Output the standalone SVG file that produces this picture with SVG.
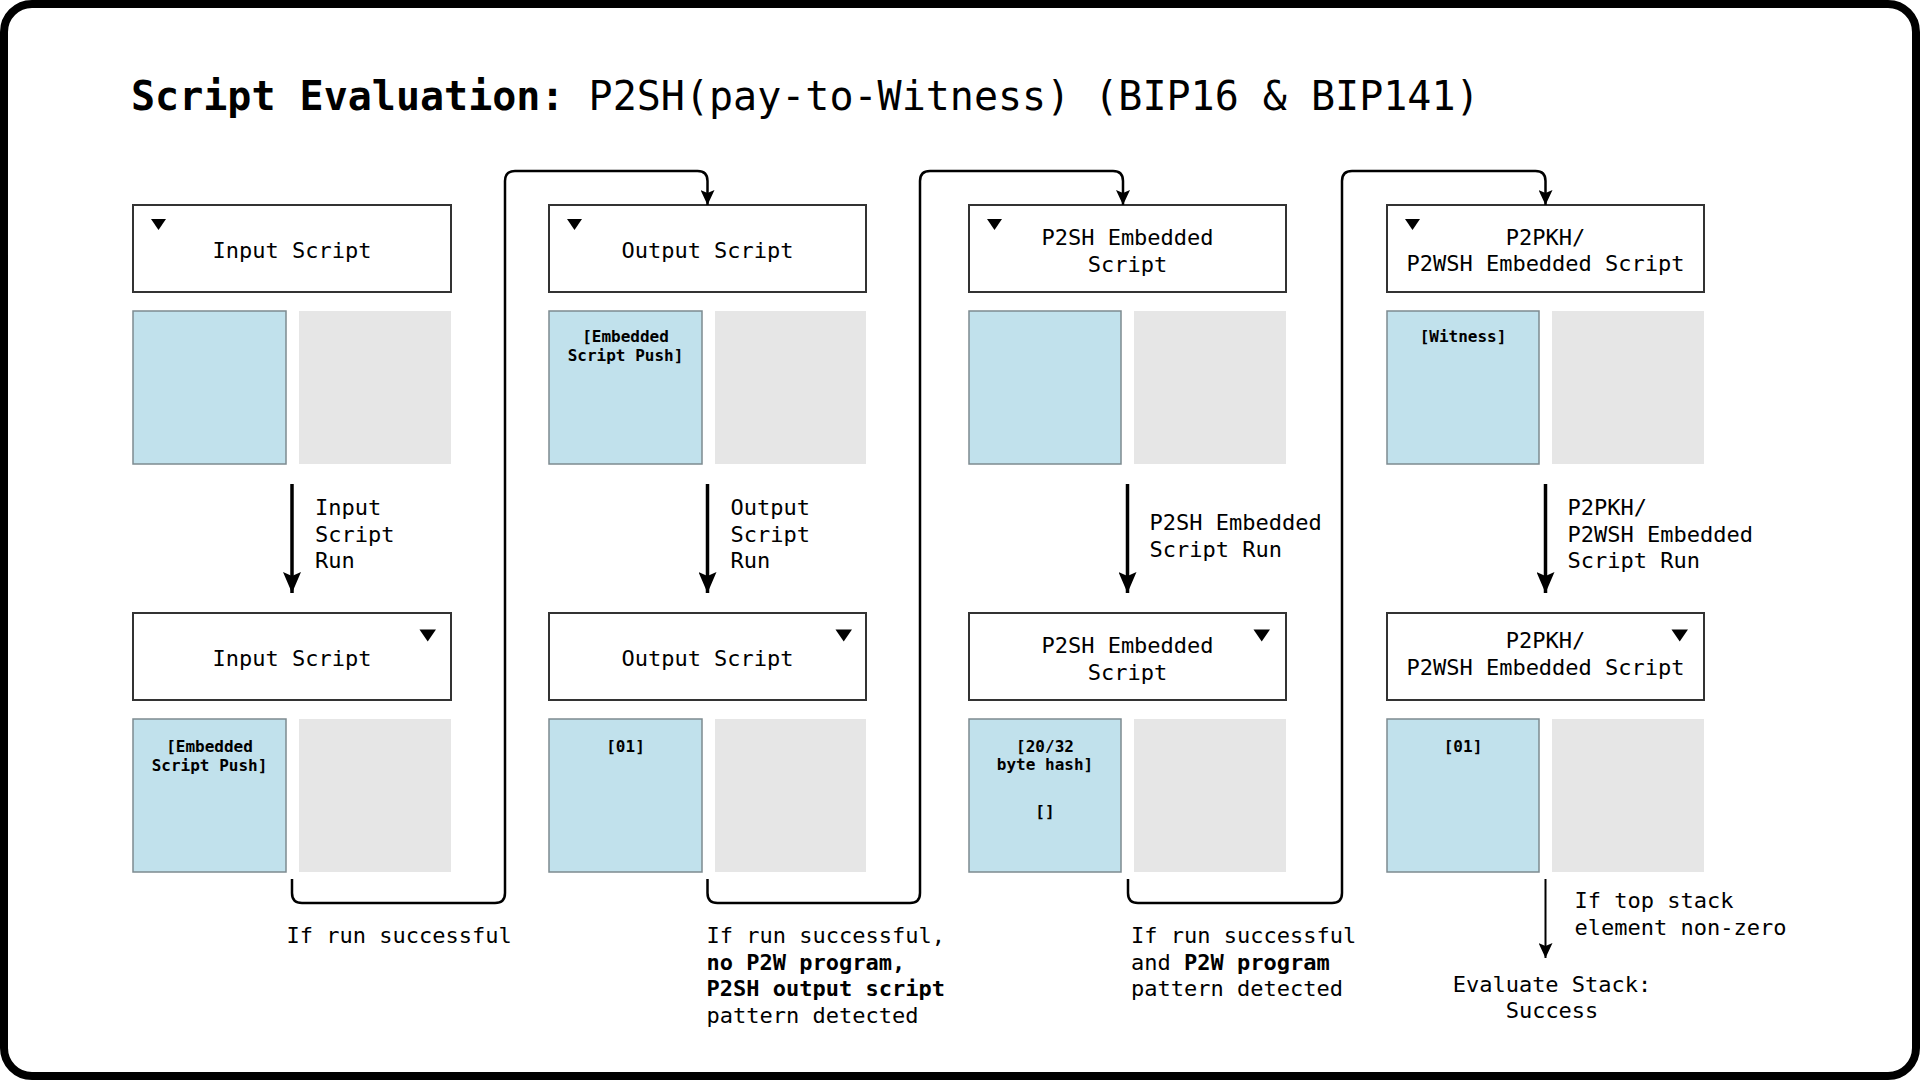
<svg xmlns="http://www.w3.org/2000/svg" width="1920" height="1080" viewBox="0 0 1920 1080">
<style>
text{font-family:"DejaVu Sans Mono","Liberation Mono",monospace;fill:#000}
.h{font-size:22px;text-anchor:middle}
.l{font-size:22px}
.c{font-size:16px;font-weight:bold;text-anchor:middle}
.b{font-weight:bold}
.hdr{fill:#fff;stroke:#333;stroke-width:2}
.blue{fill:#c1e1ec;stroke:#7d8b90;stroke-width:1.5}
.grey{fill:#e6e6e6}
.tri{fill:#000}
.con{fill:none;stroke:#000;stroke-width:2.5}
.down{fill:none;stroke:#000;stroke-width:3.5}
</style>
<defs>
<marker id="ah" markerUnits="userSpaceOnUse" viewBox="0 0 15 14" markerWidth="15" markerHeight="14" refX="15" refY="7" orient="auto">
<path d="M0,0 L15,7 L0,14 L3,7 z" fill="#000"/>
</marker>
<marker id="ahb" markerUnits="userSpaceOnUse" viewBox="0 0 21 18" markerWidth="21" markerHeight="18" refX="21" refY="9" orient="auto">
<path d="M0,0 L21,9 L0,18 L4,9 z" fill="#000"/>
</marker>
</defs>
<rect x="4" y="4" width="1912" height="1072" rx="28" ry="28" fill="#fff" stroke="#000" stroke-width="8"/>
<text x="131" y="110" style="font-size:40px"><tspan class="b">Script Evaluation:</tspan> P2SH(pay-to-Witness) (BIP16 &amp; BIP141)</text>

<g id="col1-top">
<rect class="hdr" x="133" y="205" width="318" height="87"/>
<path class="tri" d="M151,219 L166,219 L158.5,230 z"/>
<text class="h" x="292" y="258">Input Script</text>
<rect class="blue" x="133" y="311" width="153" height="153"/>
<rect class="grey" x="299" y="311" width="152" height="153"/>
</g>
<g id="col1-bottom">
<rect class="hdr" x="133" y="613" width="318" height="87"/>
<path class="tri" d="M419.5,629.5 L436,629.5 L427.7,641.5 z"/>
<text class="h" x="292" y="666">Input Script</text>
<rect class="blue" x="133" y="719" width="153" height="153"/>
<rect class="grey" x="299" y="719" width="152" height="153"/>
<text class="c" x="209.5" y="751.7">[Embedded</text>
<text class="c" x="209.5" y="770.5">Script Push]</text>
</g>

<g id="col2-top">
<rect class="hdr" x="549" y="205" width="317" height="87"/>
<path class="tri" d="M567,219 L582,219 L574.5,230 z"/>
<text class="h" x="707.5" y="258">Output Script</text>
<rect class="blue" x="549" y="311" width="153" height="153"/>
<rect class="grey" x="715" y="311" width="151" height="153"/>
<text class="c" x="625.5" y="341.7">[Embedded</text>
<text class="c" x="625.5" y="360.5">Script Push]</text>
</g>
<g id="col2-bottom">
<rect class="hdr" x="549" y="613" width="317" height="87"/>
<path class="tri" d="M835.5,629.5 L852,629.5 L843.7,641.5 z"/>
<text class="h" x="707.5" y="666">Output Script</text>
<rect class="blue" x="549" y="719" width="153" height="153"/>
<rect class="grey" x="715" y="719" width="151" height="153"/>
<text class="c" x="625.5" y="751.7">[01]</text>
</g>

<g id="col3-top">
<rect class="hdr" x="969" y="205" width="317" height="87"/>
<path class="tri" d="M987,219 L1002,219 L994.5,230 z"/>
<text class="h" x="1127.5" y="245">P2SH Embedded</text>
<text class="h" x="1127.5" y="271.5">Script</text>
<rect class="blue" x="969" y="311" width="152" height="153"/>
<rect class="grey" x="1134" y="311" width="152" height="153"/>
</g>
<g id="col3-bottom">
<rect class="hdr" x="969" y="613" width="317" height="87"/>
<path class="tri" d="M1253.5,629.5 L1270,629.5 L1261.7,641.5 z"/>
<text class="h" x="1127.5" y="653">P2SH Embedded</text>
<text class="h" x="1127.5" y="679.5">Script</text>
<rect class="blue" x="969" y="719" width="152" height="153"/>
<rect class="grey" x="1134" y="719" width="152" height="153"/>
<text class="c" x="1045" y="751.7">[20/32</text>
<text class="c" x="1045" y="770.3">byte hash]</text>
<text class="c" x="1045" y="817">[]</text>
</g>

<g id="col4-top">
<rect class="hdr" x="1387" y="205" width="317" height="87"/>
<path class="tri" d="M1405,219 L1420,219 L1412.5,230 z"/>
<text class="h" x="1545.5" y="244.5">P2PKH/</text>
<text class="h" x="1545.5" y="270.5">P2WSH Embedded Script</text>
<rect class="blue" x="1387" y="311" width="152" height="153"/>
<rect class="grey" x="1552" y="311" width="152" height="153"/>
<text class="c" x="1463" y="341.7">[Witness]</text>
</g>
<g id="col4-bottom">
<rect class="hdr" x="1387" y="613" width="317" height="87"/>
<path class="tri" d="M1671.5,629.5 L1688,629.5 L1679.7,641.5 z"/>
<text class="h" x="1545.5" y="648">P2PKH/</text>
<text class="h" x="1545.5" y="674.5">P2WSH Embedded Script</text>
<rect class="blue" x="1387" y="719" width="152" height="153"/>
<rect class="grey" x="1552" y="719" width="152" height="153"/>
<text class="c" x="1463" y="751.7">[01]</text>
</g>

<g id="connectors">
<path class="down" d="M292,484 V593" marker-end="url(#ahb)"/>
<path class="down" d="M707.5,484 V593" marker-end="url(#ahb)"/>
<path class="down" d="M1127.5,484 V593" marker-end="url(#ahb)"/>
<path class="down" d="M1545.5,484 V593" marker-end="url(#ahb)"/>
<path class="con" d="M292,879 V893 Q292,903 302,903 H495 Q505,903 505,893 V181 Q505,171 515,171 H697.5 Q707.5,171 707.5,181 V205" marker-end="url(#ah)"/>
<path class="con" d="M707.5,879 V893 Q707.5,903 717.5,903 H910 Q920,903 920,893 V181 Q920,171 930,171 H1113 Q1123,171 1123,181 V205" marker-end="url(#ah)"/>
<path class="con" d="M1128,879 V893 Q1128,903 1138,903 H1332 Q1342,903 1342,893 V181 Q1342,171 1352,171 H1535.5 Q1545.5,171 1545.5,181 V205" marker-end="url(#ah)"/>
<path class="con" style="stroke-width:2" d="M1545.5,879 V958" marker-end="url(#ah)"/>
</g>

<g id="labels">
<text class="l" x="315" y="515">Input</text>
<text class="l" x="315" y="541.5">Script</text>
<text class="l" x="315" y="568">Run</text>
<text class="l" x="730.5" y="515">Output</text>
<text class="l" x="730.5" y="541.5">Script</text>
<text class="l" x="730.5" y="568">Run</text>
<text class="l" x="1149.5" y="530">P2SH Embedded</text>
<text class="l" x="1149.5" y="556.5">Script Run</text>
<text class="l" x="1567.5" y="515">P2PKH/</text>
<text class="l" x="1567.5" y="541.5">P2WSH Embedded</text>
<text class="l" x="1567.5" y="568">Script Run</text>
<text class="l" x="286.5" y="943">If run successful</text>
<text class="l" x="706.5" y="943">If run successful,</text>
<text class="l b" x="706.5" y="969.5">no P2W program,</text>
<text class="l b" x="706.5" y="996">P2SH output script</text>
<text class="l" x="706.5" y="1022.5">pattern detected</text>
<text class="l" x="1131" y="943">If run successful</text>
<text class="l" x="1131" y="969.5">and <tspan class="b">P2W program</tspan></text>
<text class="l" x="1131" y="996">pattern detected</text>
<text class="l" x="1574.5" y="908">If top stack</text>
<text class="l" x="1574.5" y="935">element non-zero</text>
<text class="h" x="1552" y="991.5">Evaluate Stack:</text>
<text class="h" x="1552" y="1018">Success</text>
</g>
</svg>
